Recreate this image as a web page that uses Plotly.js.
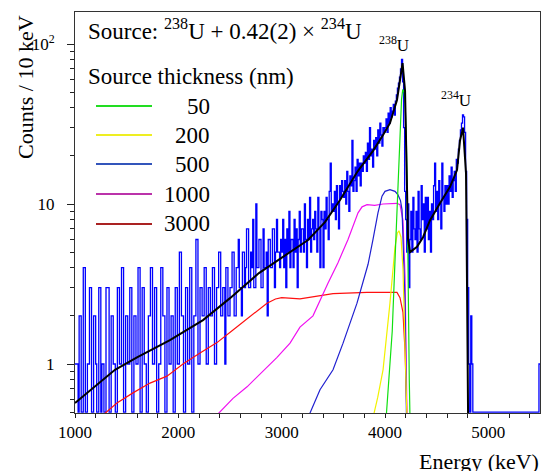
<!DOCTYPE html>
<html><head><meta charset="utf-8">
<script src="https://cdn.plot.ly/plotly-3.0.1.min.js"></script>
<style>html,body{margin:0;padding:0;background:#fff}#chart{width:546px;height:471px}</style>
</head><body><div id="chart"></div>
<script>
// ---- data ----
const binStart = 1000;   // keV, left edge of first bin
const binWidth = 10;     // keV per bin
const measuredCounts = [
  1,1,1,0,2,2,0,0,4,4,   0,0,1,1,3,3,0,0,2,2,   1,0,0,3,3,0,1,1,0,0,   3,3,3,0,0,2,2,1,1,0,
  0,3,3,1,1,4,4,0,0,2,   2,1,1,3,3,0,0,2,2,1,   1,4,4,0,0,3,3,1,1,0,   0,2,2,4,4,1,1,3,3,0,
  0,1,1,4,4,2,2,0,0,3,   3,1,1,2,2,0,0,3,3,1,   1,5,5,2,2,0,0,3,3,1,   1,4,4,0,0,2,2,6,6,1,
  1,3,3,2,2,4,4,1,1,3,   3,2,2,4,4,1,1,3,3,5,   5,2,2,3,3,1,4,4,2,2,   3,3,5,5,2,2,4,4,6,3,
  3,2,5,5,3,4,7,7,3,3,   5,4,8,3,3,10,4,4,6,6,  3,3,7,4,4,5,2,6,6,4,   4,7,7,3,5,8,5,5,4,6,
  5,8,4,6,3,7,5,9,4,6,   6,4,8,5,7,3,6,9,5,7,   7,5,10,6,4,8,6,11,5,7, 8,6,9,7,5,11,7,4,9,8,
  4,9,7,11,8,6,12,18,9,10, 9,12,8,13,10,7,13,11,14,12, 11,14,10,16,12,9,15,13,25,12, 14,17,12,19,15,18,13,18,16,20,
  18,21,16,24,19,30,20,22,17,25, 22,26,20,29,24,32,27,23,30,28, 30,34,28,37,32,40,35,38,42,36, 44,48,53,57,62,70,80,58,30,12,
  8,5,10,3,6,9,5,11,7,6, 9,5,12,7,6,13,8,10,5,11, 7,11,6,9,5,10,8,13,18,9, 12,8,14,10,7,18,11,9,13,10,
  13,10,15,12,17,11,14,16,12,19, 18,22,25,29,32,36,35,28,16,8, 3,1,0,2,1,0,0,0,0,0,
  0,0,0,0,0,0,0,0,0,0,   0,0,0,0,0,0,0,0,0,0,   0,0,0,0,0,0,0,0,0,0,   0,0,0,0,0,0,0,0,0,0,
  0,0,0,0,0,0,0,0,0,0,   0,0,0,0,0,0,0,0,0,1
];

const fitEnergy = [1000,1271,1387,1600,1919,2239,2500,2780,3081,3255,3419,3565,3735,3884,3981,4048,4116,4160,4170,4194,4213,4223,4242,4310,4368,4435,4532,4629,4697,4726,4755,4784,4794,4805];
const fitCounts = [0.57,0.79,0.92,1.1,1.41,1.88,2.58,3.7,5.0,5.96,7.7,10.6,16,21.5,27,32,44.7,72,76,51,15.6,6,5.0,5.4,6.2,7.9,10.1,12.8,16.3,25,30,15.6,3,0.4];

const sim50Energy = [4010,4040,4070,4100,4126,4142,4160,4172,4185,4195,4205,4213,4223,4235,4242];
const sim50Counts = [0.45,0.8,1.6,5,12.8,25,45,52,50,42,28,15,3,0.8,0.45];

const sim200Energy = [3880,3930,3981,4048,4097,4120,4135,4155,4174,4194,4213];
const sim200Counts = [0.45,0.62,0.92,2.4,5.4,6.6,6.8,6.2,3.9,1.5,0.45];

const sim500Energy = [3260,3371,3497,3594,3729,3836,3884,3932,3971,4000,4048,4097,4126,4150,4165,4174,4194,4208];
const sim500Counts = [0.47,0.69,0.92,1.35,2.4,4.2,6.0,8.8,11.2,12.0,12.3,12.0,11.4,10.5,9.2,6.2,2.4,0.45];

const sim1000Energy = [2374,2529,2665,2858,2955,3081,3177,3303,3371,3448,3545,3642,3739,3778,3826,3900,3981,4060,4116,4145,4174,4194,4213];
const sim1000Counts = [0.48,0.61,0.72,0.96,1.1,1.35,1.7,2.0,2.5,3.2,4.3,6.0,8.8,9.6,9.9,9.8,10.0,10.0,10.1,9.9,7.9,3.5,0.45];

const sim3000Energy = [1271,1406,1561,1726,1890,2045,2210,2374,2529,2694,2858,2940,3000,3177,3497,3826,4116,4145,4174,4194,4213];
const sim3000Counts = [0.48,0.57,0.66,0.76,0.84,1.0,1.17,1.36,1.63,1.97,2.4,2.55,2.6,2.55,2.75,2.8,2.8,2.6,2.1,1.2,0.45];

const thicknessLabels = ['50','200','500','1000','3000'];
const xTickVals = [1000,2000,3000,4000,5000];
const yTickVals = [1,10,100];
const yTickText = ['1','10','10<sup>2</sup>'];

// ---- drawing ----
const SERIF = '"Liberation Serif", serif';
const yFloor = 0.5; // empty bins drawn on the bottom frame
const histX = measuredCounts.map((_, i) => binStart + i * binWidth);
histX.push(binStart + measuredCounts.length * binWidth);
const histY = measuredCounts.map(v => Math.max(v, yFloor));
histY.push(histY[histY.length - 1]);

const plotColors = ['#10e010', '#f2f200', '#2020d0', '#f010f0', '#ff1010'];
const legendColors = ['#22dd22', '#eeee22', '#3355bb', '#bb33aa', '#aa2222'];
const simE = [sim50Energy, sim200Energy, sim500Energy, sim1000Energy, sim3000Energy];
const simC = [sim50Counts, sim200Counts, sim500Counts, sim1000Counts, sim3000Counts];

const traces = [{
  x: histX, y: histY, type: 'scatter', mode: 'lines', name: 'Measured',
  line: {shape: 'hv', color: '#0000ff', width: 1.3}
}];
for (const i of [4, 3, 2, 1, 0]) {
  traces.push({x: simE[i], y: simC[i], type: 'scatter', mode: 'lines',
    name: thicknessLabels[i] + ' nm', line: {color: plotColors[i], width: 1.2}});
}
traces.push({x: fitEnergy, y: fitCounts, type: 'scatter', mode: 'lines', name: 'Sum',
  line: {color: '#000', width: 2}});

// plot area in pixels: left 75, right 540, top 12, bottom 413
const L = 75, R = 540, T = 12, B = 413;
const px = x => (x - L) / (R - L);
const py = y => (B - y) / (B - T);

const annotations = [
  {text: 'Source: <sup>238</sup>U + 0.42(2) × <sup>234</sup>U', x: px(86), y: py(29), xanchor: 'left', yanchor: 'middle', font: {size: 23}},
  {text: 'Source thickness (nm)', x: px(86), y: py(76), xanchor: 'left', yanchor: 'middle', font: {size: 23}},
  {text: '<sup>238</sup>U', x: px(394), y: py(44), xanchor: 'center', yanchor: 'middle', font: {size: 17}},
  {text: '<sup>234</sup>U', x: px(456), y: py(99), xanchor: 'center', yanchor: 'middle', font: {size: 17}},
  {text: 'Counts / 10 keV', x: px(25), y: py(87), xanchor: 'center', yanchor: 'middle', textangle: -90, font: {size: 22}},
  {text: 'Energy (keV)', x: px(541), y: py(461), xanchor: 'right', yanchor: 'middle', font: {size: 22}}
];
const legendY = [106, 135, 164, 194, 224];
const shapes = [];
thicknessLabels.forEach((lab, i) => {
  annotations.push({text: lab, x: px(212), y: py(legendY[i]), xanchor: 'right', yanchor: 'middle', font: {size: 23}});
  shapes.push({type: 'line', xref: 'paper', yref: 'paper', x0: px(96), x1: px(152), y0: py(legendY[i]), y1: py(legendY[i]),
    line: {color: legendColors[i], width: 2}});
});
annotations.forEach(a => { a.xref = 'paper'; a.yref = 'paper'; a.showarrow = false;
  a.font = Object.assign({family: SERIF, color: '#000'}, a.font); });

const yMinor = [0.5,0.6,0.7,0.8,0.9,2,3,4,5,6,7,8,9,20,30,40,50,60,70,80,90];

const layout = {
  width: 546, height: 471,
  margin: {l: L, r: 546 - R, t: T, b: 471 - B},
  paper_bgcolor: '#fff', plot_bgcolor: '#fff',
  showlegend: false,
  font: {family: SERIF, color: '#000'},
  xaxis: {
    range: [1000, 5500], tickmode: 'array', tickvals: xTickVals,
    ticks: 'outside', ticklen: 4, tickwidth: 1, tickcolor: '#222',
    minor: {dtick: 200, tick0: 1000, ticks: 'outside', ticklen: 4, tickcolor: '#222'},
    showline: true, linecolor: '#333', linewidth: 1, mirror: true,
    showgrid: false, zeroline: false,
    tickfont: {family: SERIF, size: 17, color: '#000'}, ticklabelstandoff: 0
  },
  yaxis: {
    type: 'log', range: [Math.log10(0.494), 2.2],
    tickmode: 'array', tickvals: yTickVals, ticktext: yTickText,
    ticks: 'outside', ticklen: 7, tickwidth: 1, tickcolor: '#222',
    minor: {tickmode: 'array', tickvals: yMinor, ticks: 'outside', ticklen: 4, tickcolor: '#222'},
    showline: true, linecolor: '#333', linewidth: 1, mirror: true,
    showgrid: false, zeroline: false,
    tickfont: {family: SERIF, size: 17, color: '#000'}, ticklabelstandoff: 9
  },
  annotations: annotations,
  shapes: shapes
};

Plotly.newPlot('chart', traces, layout, {displayModeBar: false, staticPlot: true});
</script>
</body></html>
